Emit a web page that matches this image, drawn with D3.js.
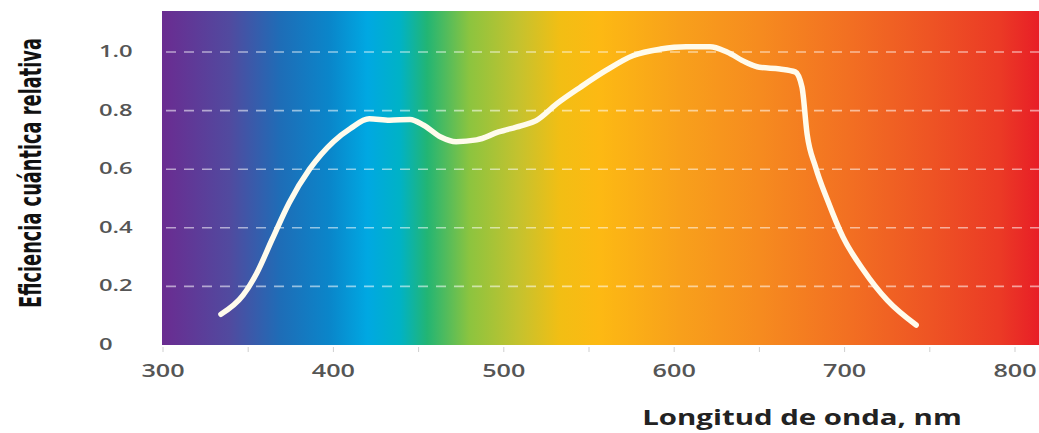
<!DOCTYPE html>
<html>
<head>
<meta charset="utf-8">
<script src="https://cdnjs.cloudflare.com/ajax/libs/d3/7.8.5/d3.min.js"></script>
<style>
  body { margin: 0; background: #fff; }
  svg { display: block; }
</style>
</head>
<body>
<div id="Results"><svg width="1039" height="433"></svg></div>
<script>
// quantum efficiency curve
var wavelength = [334, 347, 355, 364, 374, 386, 400, 410, 421, 433, 445, 453, 463, 472, 484, 497,
                  510, 519, 531, 545, 560, 576, 592, 607, 621, 631, 642, 650, 662, 671, 675, 678,
                  683, 690, 699, 711, 725, 742];
var efficiency = [0.105, 0.17, 0.245, 0.36, 0.485, 0.6, 0.694, 0.739, 0.772, 0.767, 0.77, 0.75, 0.71, 0.694, 0.70, 0.727,
                  0.748, 0.766, 0.823, 0.88, 0.937, 0.988, 1.01, 1.018, 1.018, 1.0, 0.965, 0.948, 0.942, 0.932, 0.88, 0.72,
                  0.607, 0.494, 0.369, 0.256, 0.153, 0.068];
var xTicks = [300, 400, 500, 600, 700, 800];
var xMinorTicks = [300, 350, 400, 450, 500, 550, 600, 650, 700, 750, 800];
var yTicks = [0, 0.2, 0.4, 0.6, 0.8, 1.0];
var yTickLabels = ['0', '0.2', '0.4', '0.6', '0.8', '1.0'];

// spectrum colours behind the plot, by wavelength
var spectrumNm = [300, 339, 369, 398, 420, 439, 455, 480, 509, 533, 556, 603, 650, 703, 750, 791, 814];
var spectrumColor = ['#6a2c91', '#514a9f', '#1e6db7', '#0a86ca', '#00a8e2', '#00b2c6', '#22b574', '#8cc43f',
                     '#c5c22e', '#f2be14', '#fdb913', '#f8a01b', '#f68b1f', '#f26f22', '#ee5424', '#eb3a25', '#e81e27'];

var svg = d3.select('#Results').select('svg');

var x = d3.scaleLinear().domain([300, 800]).range([163, 1015]);
var y = d3.scaleLinear().domain([0, 1]).range([345, 52]);
var plotLeft = 162, plotRight = 1039, plotTop = 11, plotBottom = 345;

var defs = svg.append('defs');
var grad = defs.append('linearGradient')
    .attr('id', 'spectrum')
    .attr('gradientUnits', 'userSpaceOnUse')
    .attr('x1', plotLeft).attr('x2', plotRight).attr('y1', 0).attr('y2', 0);
grad.selectAll('stop')
  .data(spectrumNm)
  .enter().append('stop')
    .attr('offset', function(d) { return (x(d) - plotLeft) / (plotRight - plotLeft); })
    .attr('stop-color', function(d, i) { return spectrumColor[i]; });

svg.append('rect')
    .attr('x', plotLeft).attr('y', plotTop)
    .attr('width', plotRight - plotLeft).attr('height', plotBottom - plotTop)
    .attr('fill', 'url(#spectrum)');

// dashed grid
svg.append('g').selectAll('line')
  .data(yTicks.slice(1))
  .enter().append('line')
    .attr('x1', plotLeft + 4).attr('x2', plotRight)
    .attr('y1', function(d) { return y(d); })
    .attr('y2', function(d) { return y(d); })
    .attr('stroke', '#fff')
    .attr('stroke-opacity', 0.55)
    .attr('stroke-width', 1.6)
    .attr('stroke-dasharray', '10,8');

// small ticks under the plot
svg.append('g').selectAll('line')
  .data(xMinorTicks)
  .enter().append('line')
    .attr('x1', function(d) { return x(d); })
    .attr('x2', function(d) { return x(d); })
    .attr('y1', plotBottom + 2).attr('y2', plotBottom + 7)
    .attr('stroke', '#cfcfcf')
    .attr('stroke-width', 1);

// x tick labels (wide lettering)
svg.append('g').selectAll('text')
  .data(xTicks)
  .enter().append('text')
    .attr('transform', function(d) { return 'translate(' + x(d) + ',377) scale(1.4,1)'; })
    .attr('text-anchor', 'middle')
    .style('font-family', '"Open Sans", sans-serif')
    .style('font-size', '18px')
    .style('font-weight', 600)
    .style('fill', '#555')
    .text(function(d) { return d; });

// y tick labels
svg.append('g').selectAll('text')
  .data(yTicks)
  .enter().append('text')
    .attr('transform', function(d) { return 'translate(99,' + (y(d) + 5) + ') scale(1.4,1)'; })
    .attr('text-anchor', 'start')
    .style('font-family', '"Open Sans", sans-serif')
    .style('font-size', '17px')
    .style('font-weight', 600)
    .style('fill', '#555')
    .text(function(d, i) { return yTickLabels[i]; });

// curve
var line = d3.line()
    .x(function(d) { return x(wavelength[d]); })
    .y(function(d) { return y(efficiency[d]); })
    .curve(d3.curveMonotoneX);

svg.append('path')
    .datum(d3.range(wavelength.length))
    .attr('d', line)
    .attr('fill', 'none')
    .attr('stroke', '#fffbec')
    .attr('stroke-width', 5.5)
    .attr('stroke-linecap', 'round')
    .attr('stroke-linejoin', 'round');

// axis titles
var yTitle = svg.append('text')
    .attr('text-anchor', 'middle')
    .style('font-family', '"Liberation Sans Narrow", "DejaVu Sans Condensed", sans-serif')
    .style('font-size', '30px')
    .style('font-weight', 'bold')
    .style('fill', '#111')
    .text('Eficiencia cuántica relativa');
// squeeze the title to the height it has in the picture
var squeeze = 270 / yTitle.node().getComputedTextLength();
yTitle.attr('transform', 'translate(41,173) rotate(-90) scale(' + squeeze + ',1)');

svg.append('text')
    .attr('transform', 'translate(802,425) scale(1.4,1)')
    .attr('text-anchor', 'middle')
    .style('font-family', '"Open Sans", sans-serif')
    .style('font-size', '21px')
    .style('font-weight', 'bold')
    .style('fill', '#222')
    .text('Longitud de onda, nm');
</script>
</body>
</html>
